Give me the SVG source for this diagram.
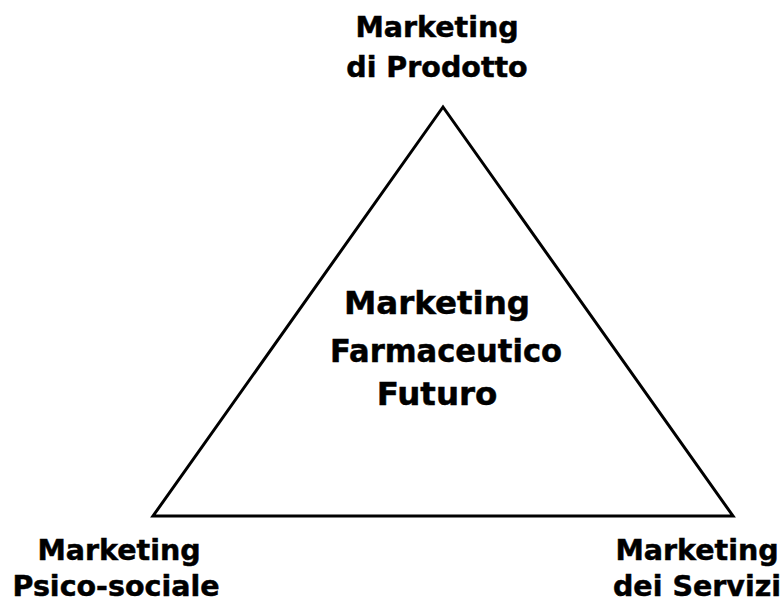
<svg xmlns="http://www.w3.org/2000/svg" width="781" height="602" viewBox="0 0 781 602">
  <style>
    .lbl { font-family: "DejaVu Sans", Verdana, sans-serif; font-weight: bold; font-size: 28.5px; fill: #000; stroke: #000; stroke-width: 0.5; text-anchor: middle; }
    .mid { font-size: 32.5px; }
    .edge { fill: none; stroke: #000; stroke-width: 3; stroke-linejoin: miter; }
  </style>
  <rect width="781" height="602" fill="#fff"/>
  <g id="connectors">
    <polygon class="edge" points="443,107 153,516 733,516"/>
  </g>
  <g id="node-prodotto">
    <text class="lbl" x="437" y="37">Marketing</text>
    <text class="lbl" x="437" y="77">di Prodotto</text>
  </g>
  <g id="node-centro">
    <text class="lbl mid" x="437" y="314">Marketing</text>
    <text class="lbl mid" x="446" y="362" textLength="232" lengthAdjust="spacingAndGlyphs">Farmaceutico</text>
    <text class="lbl mid" x="437" y="405">Futuro</text>
  </g>
  <g id="node-psicosociale">
    <text class="lbl" x="119" y="560">Marketing</text>
    <text class="lbl" x="116" y="596">Psico-sociale</text>
  </g>
  <g id="node-servizi">
    <text class="lbl" x="697" y="560">Marketing</text>
    <text class="lbl" x="697" y="596">dei Servizi</text>
  </g>
</svg>
